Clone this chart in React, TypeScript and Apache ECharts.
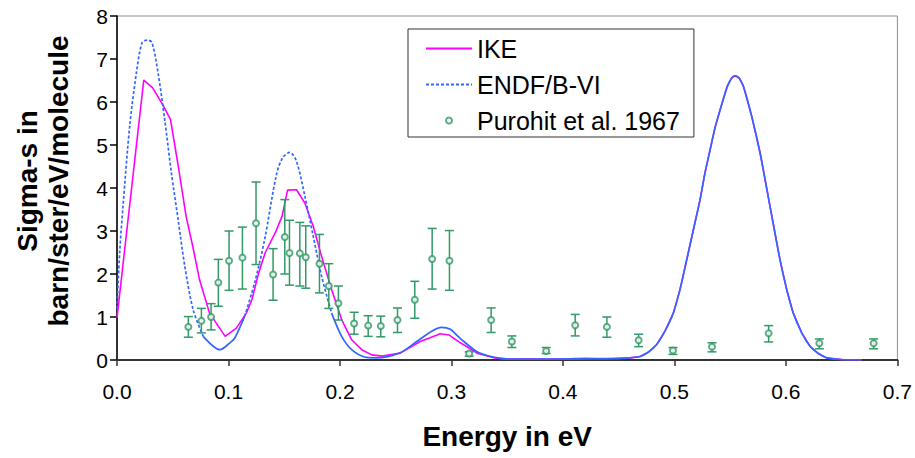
import React, { useEffect, useRef } from "react";
import * as echarts from "echarts";

// ---- Data ----
const xMin = 0;
const xMax = 0.7;
const xInterval = 0.1;
const yMin = 0;
const yMax = 8;
const yInterval = 1;

const seriesNames = ["IKE", "ENDF/B-VI", "Purohit et al. 1967"];

// IKE curve: [energy eV, sigma]
const ikeData: number[][] = [
  [0.0, 0.98], [0.024, 6.51], [0.032, 6.33], [0.041, 5.94], [0.048, 5.59],
  [0.055, 4.5], [0.062, 3.34], [0.068, 2.64], [0.074, 1.87], [0.083, 1.09],
  [0.097, 0.55], [0.107, 0.74], [0.116, 1.09], [0.121, 1.4], [0.127, 2.02],
  [0.133, 2.5], [0.142, 2.96], [0.148, 3.34], [0.153, 3.95], [0.161, 3.96],
  [0.1685, 3.65], [0.176, 3.11], [0.1835, 2.41], [0.1925, 1.64], [0.2015, 0.94],
  [0.2105, 0.47], [0.2195, 0.24], [0.2285, 0.12], [0.238, 0.09], [0.254, 0.16],
  [0.272, 0.43], [0.29, 0.61], [0.298, 0.58], [0.308, 0.4], [0.323, 0.16],
  [0.338, 0.05], [0.352, 0.02], [0.4, 0.02], [0.44, 0.03], [0.46, 0.05],
  [0.4691, 0.08], [0.4765, 0.18], [0.4841, 0.36], [0.4915, 0.67], [0.499, 1.09],
  [0.505, 1.64], [0.511, 2.33], [0.517, 3.03], [0.523, 3.73], [0.5274, 4.35],
  [0.532, 4.89], [0.5364, 5.4], [0.541, 5.82], [0.5475, 6.37], [0.5514, 6.56],
  [0.5543, 6.61], [0.558, 6.56], [0.5618, 6.37], [0.5693, 5.67], [0.5768, 4.82],
  [0.5857, 3.58], [0.5947, 2.33], [0.6007, 1.64], [0.6066, 1.09], [0.6142, 0.63],
  [0.6216, 0.32], [0.6291, 0.15], [0.6366, 0.05], [0.65, 0.01], [0.668, 0.0],
];

// ENDF/B-VI curve: [energy eV, sigma]
const endfData: number[][] = [
  [0.0, 1.2], [0.0024, 2.5], [0.0054, 3.58], [0.0114, 5.44], [0.0174, 6.68],
  [0.0225, 7.38], [0.0273, 7.44], [0.0314, 7.38], [0.0368, 6.68], [0.0428, 5.59],
  [0.0488, 4.35], [0.0548, 3.27], [0.0608, 2.18], [0.0683, 1.17], [0.0773, 0.55],
  [0.0863, 0.32], [0.0923, 0.24], [0.1013, 0.4], [0.1054, 0.5], [0.1144, 1.01],
  [0.1234, 1.79], [0.1324, 2.8], [0.143, 4.31], [0.1485, 4.7], [0.155, 4.83],
  [0.161, 4.62], [0.1685, 3.81], [0.176, 2.88], [0.1835, 1.95], [0.1925, 1.09],
  [0.2015, 0.55], [0.2105, 0.24], [0.222, 0.07], [0.232, 0.05], [0.254, 0.17],
  [0.272, 0.49], [0.291, 0.76], [0.2986, 0.72], [0.3076, 0.51], [0.3226, 0.2],
  [0.3375, 0.07], [0.352, 0.02], [0.4, 0.02], [0.42, 0.04], [0.44, 0.03],
  [0.46, 0.05], [0.4691, 0.08], [0.4765, 0.18], [0.4841, 0.36], [0.4915, 0.67],
  [0.499, 1.09], [0.505, 1.64], [0.511, 2.33], [0.517, 3.03], [0.523, 3.73],
  [0.5274, 4.35], [0.532, 4.89], [0.5364, 5.4], [0.541, 5.82], [0.5475, 6.37],
  [0.5514, 6.56], [0.5543, 6.61], [0.558, 6.56], [0.5618, 6.37], [0.5693, 5.67],
  [0.5768, 4.82], [0.5857, 3.58], [0.5947, 2.33], [0.6007, 1.64], [0.6066, 1.09],
  [0.6142, 0.63], [0.6216, 0.32], [0.6291, 0.15], [0.6366, 0.05], [0.65, 0.01],
  [0.668, 0.0],
];
// energy ranges where the ENDF line shows as dashes in the reference
const endfDashedRanges: number[][] = [
  [0.0, 0.0773],
  [0.1144, 0.1925],
];

// Purohit et al. 1967 measurements
const purohitE = [
  0.064, 0.0757, 0.0844, 0.0909, 0.1005, 0.1125, 0.1247, 0.14, 0.1505, 0.1547,
  0.164, 0.1693, 0.1816, 0.19, 0.1986, 0.2127, 0.2253, 0.2366, 0.2516, 0.2671,
  0.2827, 0.2982, 0.3159, 0.3356, 0.3542, 0.385, 0.411, 0.4394, 0.4679, 0.4987,
  0.5337, 0.5845, 0.63, 0.6787,
];
const purohitV = [
  0.77, 0.91, 1.0, 1.8, 2.31, 2.38, 3.18, 1.99, 2.86, 2.49,
  2.48, 2.39, 2.24, 1.72, 1.32, 0.85, 0.8, 0.79, 0.93, 1.4,
  2.35, 2.31, 0.15, 0.93, 0.43, 0.21, 0.81, 0.77, 0.46, 0.22,
  0.31, 0.62, 0.39, 0.39,
];
const purohitLow = [
  0.53, 0.63, 0.7, 1.25, 1.62, 1.65, 2.22, 1.39, 2.0, 1.74,
  1.72, 1.67, 1.56, 1.2, 0.93, 0.6, 0.55, 0.54, 0.64, 0.97,
  1.65, 1.62, 0.09, 0.64, 0.29, 0.15, 0.56, 0.53, 0.31, 0.13,
  0.19, 0.42, 0.26, 0.26,
];
const purohitHigh = [
  1.01, 1.2, 1.31, 2.34, 3.0, 3.09, 4.14, 2.59, 3.73, 3.25,
  3.2, 3.12, 2.92, 2.24, 1.72, 1.11, 1.03, 1.02, 1.21, 1.83,
  3.06, 3.01, 0.19, 1.21, 0.56, 0.29, 1.06, 1.0, 0.6, 0.29,
  0.4, 0.8, 0.49, 0.49,
];

const FONT = "'Liberation Sans', Arial, Helvetica, sans-serif";
const MAGENTA = "#ff00ff";
const BLUE = "#3366ff";
const GREEN = "#339966";

function inDashed(e: number) {
  return endfDashedRanges.some((r) => e >= r[0] && e <= r[1]);
}
function inSolid(e: number) {
  return endfDashedRanges.every((r) => !(e > r[0] && e < r[1]));
}

export default function App() {
  const ref = useRef<HTMLDivElement>(null);

  useEffect(() => {
    document.body.style.margin = "0";
    if (!ref.current) return;
    const chart = echarts.init(ref.current, undefined, { renderer: "svg" });

    const endfDashed = endfData.map((p) => (inDashed(p[0]) ? p : [p[0], null]));
    const endfSolid = endfData.map((p) => (inSolid(p[0]) ? p : [p[0], null]));
    const points = purohitE.map((e, i) => [e, purohitV[i]]);
    const bars = purohitE.map((e, i) => [e, purohitLow[i], purohitHigh[i]]);

    const option: any = {
      animation: false,
      backgroundColor: "#ffffff",
      textStyle: { fontFamily: FONT },
      grid: {
        left: 117,
        right: 17,
        top: 16,
        bottom: 98,
        show: true,
        borderColor: "#8c8c8c",
        borderWidth: 1,
        backgroundColor: "transparent",
      },
      legend: {
        data: [
          { name: seriesNames[0], itemStyle: { opacity: 0 } },
          { name: seriesNames[1], itemStyle: { opacity: 0 } },
          { name: seriesNames[2] },
        ],
        orient: "vertical",
        left: 408,
        top: 29,
        padding: [7, 14, 4, 17],
        itemGap: 11,
        itemWidth: 46,
        itemHeight: 6,
        borderColor: "#333",
        borderWidth: 1,
        backgroundColor: "#fff",
        textStyle: { fontSize: 25, color: "#000", fontFamily: FONT },
        selectedMode: false,
      },
      xAxis: {
        type: "value",
        min: xMin,
        max: xMax,
        interval: xInterval,
        name: "Energy in eV",
        nameLocation: "middle",
        nameGap: 62,
        nameTextStyle: { fontSize: 28, fontWeight: "bold", color: "#000", fontFamily: FONT },
        axisLine: { show: true, lineStyle: { color: "#333", width: 2 } },
        axisTick: { show: true, length: 6, lineStyle: { color: "#333", width: 1.5 } },
        axisLabel: {
          fontSize: 21,
          color: "#000",
          margin: 21,
          formatter: (v: number) => v.toFixed(1),
        },
        splitLine: { show: false },
      },
      yAxis: {
        type: "value",
        min: yMin,
        max: yMax,
        interval: yInterval,
        axisLine: { show: true, lineStyle: { color: "#000", width: 1.5 } },
        axisTick: { show: true, length: 7, lineStyle: { color: "#000", width: 1.5 } },
        axisLabel: { fontSize: 21, color: "#000", margin: 9 },
        splitLine: { show: false },
      },
      graphic: [
        {
          type: "text",
          x: 27,
          y: 181,
          rotation: Math.PI / 2,
          style: {
            text: "Sigma-s in",
            fontSize: 28,
            fontWeight: "bold",
            fontFamily: FONT,
            fill: "#000",
            align: "center",
            verticalAlign: "middle",
          },
        },
        {
          type: "text",
          x: 58,
          y: 181,
          rotation: Math.PI / 2,
          style: {
            text: "barn/ster/eV/molecule",
            fontSize: 28,
            fontWeight: "bold",
            fontFamily: FONT,
            fill: "#000",
            align: "center",
            verticalAlign: "middle",
          },
        },
      ],
      series: [
        {
          name: "IKE",
          type: "line",
          data: ikeData,
          showSymbol: false,
          symbol: "none",
          lineStyle: { color: MAGENTA, width: 1.6 },
          itemStyle: { color: MAGENTA, opacity: 0 },
          z: 2,
        },
        {
          name: "ENDF/B-VI",
          type: "line",
          data: endfDashed,
          showSymbol: false,
          symbol: "none",
          smooth: 0.3,
          connectNulls: false,
          lineStyle: { color: BLUE, width: 1.7, type: [3, 2] },
          itemStyle: { color: BLUE, opacity: 0 },
          z: 3,
        },
        {
          name: "ENDF/B-VI",
          type: "line",
          data: endfSolid,
          showSymbol: false,
          symbol: "none",
          smooth: 0.3,
          connectNulls: false,
          lineStyle: { color: BLUE, width: 1.7 },
          itemStyle: { color: BLUE, opacity: 0 },
          z: 3,
        },
        {
          name: "Purohit et al. 1967",
          type: "scatter",
          data: points,
          symbol: "emptyCircle",
          symbolSize: 6,
          itemStyle: { color: GREEN, borderColor: GREEN, borderWidth: 1.5 },
          z: 5,
        },
        {
          name: "errorbars",
          type: "custom",
          data: bars,
          z: 4,
          renderItem: (params: any, api: any) => {
            const x = api.value(0);
            const lo = api.coord([x, api.value(1)]);
            const hi = api.coord([x, api.value(2)]);
            const hw = 4.5;
            const style = { stroke: GREEN, lineWidth: 1.5 };
            return {
              type: "group",
              children: [
                { type: "line", shape: { x1: lo[0], y1: lo[1], x2: hi[0], y2: hi[1] }, style },
                { type: "line", shape: { x1: lo[0] - hw, y1: lo[1], x2: lo[0] + hw, y2: lo[1] }, style },
                { type: "line", shape: { x1: hi[0] - hw, y1: hi[1], x2: hi[0] + hw, y2: hi[1] }, style },
              ],
            };
          },
        },
      ],
    };

    chart.setOption(option);
    return () => {
      chart.dispose();
    };
  }, []);

  return <div ref={ref} style={{ width: 915, height: 458 }} />;
}
